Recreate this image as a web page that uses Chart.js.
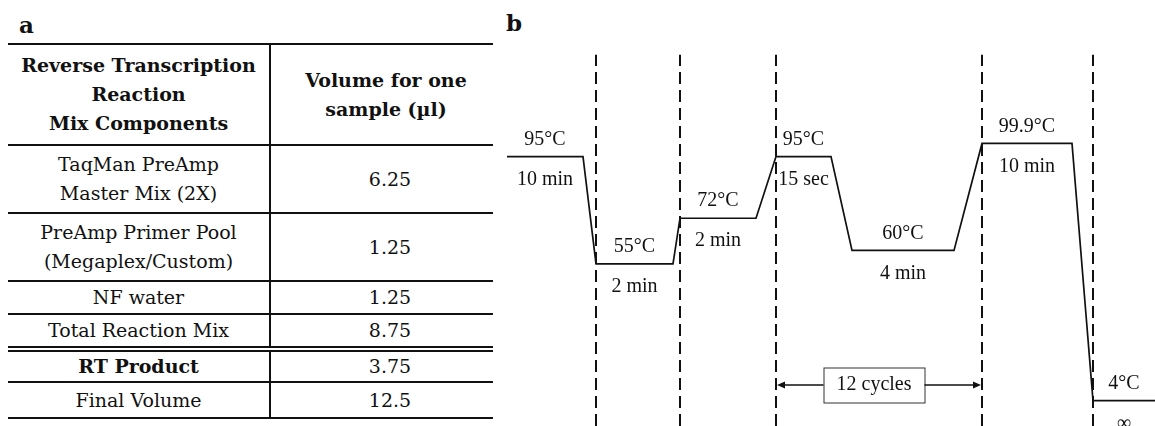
<!DOCTYPE html>
<html>
<head>
<meta charset="utf-8">
<script src="https://cdn.jsdelivr.net/npm/chart.js@4.4.1/dist/chart.umd.min.js"></script>
<style>
  body { margin: 0; width: 1155px; height: 426px; background: #fff; position: relative; overflow: hidden; }
  .panel { position: absolute; font-family: "DejaVu Serif", serif; font-weight: bold; font-size: 23px; color: #111; line-height: 1; }
  #mix { position: absolute; left: 8px; top: 43px; width: 485px; border-collapse: collapse;
         font-family: "DejaVu Serif", serif; font-size: 19px; color: #111; line-height: 29px; }
  #mix th, #mix td { padding: 0; text-align: center; border-top: 2px solid #111; border-bottom: 2px solid #111; }
  #mix th:first-child, #mix td:first-child { width: 261px; border-right: 2px solid #111; }
  #mix td:last-child { padding-left: 16px; }
  #mix th:last-child { padding-left: 8px; }
  #mix tr.total td { border-bottom: 6px double #111; }
  #mix .bold { font-weight: bold; }
  #wrap { position: absolute; left: 490px; top: 0; width: 665px; height: 426px; }
</style>
</head>
<body>
<div class="panel" style="left:19px; top:13px;">a</div>
<div class="panel" style="left:506px; top:11px;">b</div>
<table id="mix"></table>
<div id="wrap"><canvas id="profile"></canvas></div>
<script>
// reverse transcription mix
var headerLeft = 'Reverse Transcription<br>Reaction<br>Mix Components';
var headerRight = 'Volume for one<br>sample (\u00b5l)';
var components = ['TaqMan PreAmp<br>Master Mix (2X)', 'PreAmp Primer Pool<br>(Megaplex/Custom)', 'NF water', 'Total Reaction Mix', 'RT Product', 'Final Volume'];
var volumes = ['6.25', '1.25', '1.25', '8.75', '3.75', '12.5'];
var rowHeights = [68, 68, 33, 35, 33, 36];

// thermal profile steps
var tempLabels = ['95\u00b0C', '55\u00b0C', '72\u00b0C', '95\u00b0C', '60\u00b0C', '99.9\u00b0C', '4\u00b0C'];
var temps = [95, 55, 72, 95, 60, 99.9, 4];
var holdTimes = ['10 min', '2 min', '2 min', '15 sec', '4 min', '10 min', '\u221e'];
var holdStart = [1.7, 10.6, 19.0, 28.6, 36.2, 49.2, 60.3];
var holdEnd = [9.3, 18.3, 26.6, 34.1, 46.4, 58.2, 66.5];
var stepBounds = [10.6, 19.0, 28.6, 49.2, 60.3];
var cycleFrom = 2, cycleTo = 3;
var cycleText = '12 cycles';

var table = document.getElementById('mix');
var html = '<tr style="height:101px"><th>' + headerLeft + '</th><th>' + headerRight + '</th></tr>';
components.forEach(function(name, i) {
    var cls = name == 'Total Reaction Mix' ? ' class="total"' : '';
    var b = name == 'RT Product' ? ' class="bold"' : '';
    html += '<tr' + cls + ' style="height:' + rowHeights[i] + 'px"><td' + b + '>' + name + '</td><td>' + volumes[i] + '</td></tr>';
});
table.innerHTML = html;

var yMin = -5.5, yMax = 153.4, dashTop = 133;

var profile = [];
temps.forEach(function(t, i) {
    profile.push({x: holdStart[i], y: t});
    profile.push({x: holdEnd[i], y: t});
});

var guides = [];
stepBounds.forEach(function(b) {
    guides.push({x: b, y: yMin}, {x: b, y: dashTop}, {x: b, y: null});
});

function arrow(ctx, x0, x1, y) {
    var dir = x1 > x0 ? 1 : -1;
    ctx.beginPath();
    ctx.moveTo(x0, y);
    ctx.lineTo(x1 - dir * 6, y);
    ctx.stroke();
    ctx.beginPath();
    ctx.moveTo(x1, y);
    ctx.lineTo(x1 - dir * 8, y - 3.5);
    ctx.lineTo(x1 - dir * 8, y + 3.5);
    ctx.closePath();
    ctx.fill();
}

var stepLabels = {
    id: 'stepLabels',
    afterDatasetsDraw: function(chart) {
        var ctx = chart.ctx, x = chart.scales.x, y = chart.scales.y;
        ctx.save();
        ctx.font = '20px "Liberation Serif"';
        ctx.fillStyle = '#111';
        ctx.textAlign = 'center';
        ctx.textBaseline = 'middle';
        temps.forEach(function(t, i) {
            var cx = x.getPixelForValue((holdStart[i] + holdEnd[i]) / 2);
            var py = y.getPixelForValue(t);
            ctx.fillText(tempLabels[i], cx, py - 17);
            ctx.fillText(holdTimes[i], cx, py + 23);
        });

        // cycle bracket between two guide lines
        var left = x.getPixelForValue(stepBounds[cycleFrom]);
        var right = x.getPixelForValue(stepBounds[cycleTo]);
        var mid = (left + right) / 2 - 5;
        var cy = chart.chartArea.bottom - 41;
        var bw = 101, bh = 35;
        ctx.strokeStyle = '#333';
        ctx.lineWidth = 1;
        ctx.strokeRect(mid - bw / 2 + 0.5, cy - bh / 2 + 0.5, bw, bh);
        ctx.fillText(cycleText, mid, cy);
        ctx.strokeStyle = '#111';
        ctx.lineWidth = 1.4;
        arrow(ctx, mid - bw / 2, left + 1, cy);
        arrow(ctx, mid + bw / 2, right - 1, cy);
        ctx.restore();
    }
};

var chart = new Chart(document.getElementById('profile'), {
    type: 'line',
    data: {
        datasets: [
            {
                data: profile,
                borderColor: '#111',
                borderWidth: 1.7,
                pointRadius: 0,
                tension: 0
            },
            {
                data: guides,
                borderColor: '#111',
                borderWidth: 2,
                borderDash: [12, 6],
                pointRadius: 0,
                spanGaps: false
            }
        ]
    },
    options: {
        responsive: true,
        maintainAspectRatio: false,
        animation: false,
        layout: { padding: 0 },
        plugins: { legend: { display: false }, tooltip: { enabled: false } },
        scales: {
            x: { type: 'linear', display: false, min: 0, max: 66.5 },
            y: { type: 'linear', display: false, min: yMin, max: yMax }
        }
    },
    plugins: [stepLabels]
});
</script>
</body>
</html>
